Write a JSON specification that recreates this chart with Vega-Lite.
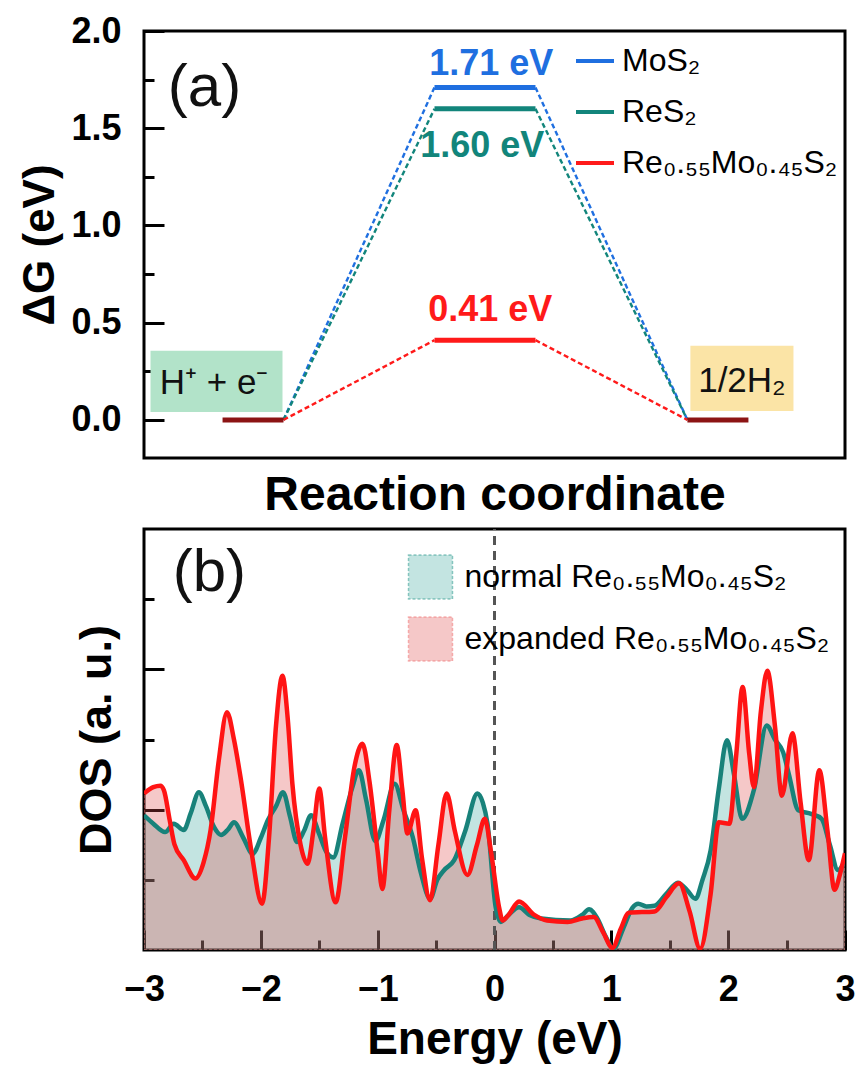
{
  "$schema": "https://vega.github.io/schema/vega-lite/v6.json",
  "padding": {"left": 17, "top": 11, "right": 5, "bottom": 0},
  "spacing": 5,
  "resolve": {
    "scale": {"color": "independent", "fill": "independent", "stroke": "independent"},
    "legend": {"color": "independent", "fill": "independent", "stroke": "independent"}
  },
  "config": {
    "font": "Liberation Sans",
    "view": {"stroke": "black", "strokeWidth": 3},
    "axis": {
      "domain": false, "grid": false, "tickColor": "black", "tickWidth": 3,
      "labelFont": "Liberation Sans", "labelFontWeight": "bold", "labelFontSize": 36, "labelColor": "black",
      "titleFont": "Liberation Sans", "titleFontWeight": "bold", "titleFontSize": 46, "titleColor": "black"
    },
    "legend": {"labelFont": "Liberation Sans", "labelColor": "black", "padding": 0, "labelLimit": 0}
  },
  "datasets": {
    "boxes": [
      {"x": 0.065, "x2": 1.384, "y": 0.041, "y2": 0.356, "b": "H"},
      {"x": 5.46, "x2": 6.49, "y": 0.046, "y2": 0.381, "b": "half"}
    ],
    "boxtext": [
      {"x": 0.70, "y": 0.19, "t": "H⁺ + e⁻"},
      {"x": 5.975, "y": 0.2, "t": "1/2H₂"}
    ],
    "base": [
      {"x": 0.785, "x2": 1.394, "y": 0},
      {"x": 5.43, "x2": 6.04, "y": 0}
    ],
    "levels": [
      {"x": 2.903, "x2": 3.912, "y": 1.71, "s": "MoS₂"},
      {"x": 2.903, "x2": 3.912, "y": 1.60, "s": "ReS₂"},
      {"x": 2.903, "x2": 3.912, "y": 0.41, "s": "Re₀.₅₅Mo₀.₄₅S₂"}
    ],
    "conn": [
      {"x": 1.394, "y": 0, "x2": 2.903, "y2": 1.71, "s": "MoS₂"},
      {"x": 3.912, "y": 1.71, "x2": 5.43, "y2": 0, "s": "MoS₂"},
      {"x": 1.394, "y": 0, "x2": 2.903, "y2": 1.60, "s": "ReS₂"},
      {"x": 3.912, "y": 1.60, "x2": 5.43, "y2": 0, "s": "ReS₂"},
      {"x": 1.394, "y": 0, "x2": 2.903, "y2": 0.41, "s": "Re₀.₅₅Mo₀.₄₅S₂"},
      {"x": 3.912, "y": 0.41, "x2": 5.43, "y2": 0, "s": "Re₀.₅₅Mo₀.₄₅S₂"}
    ],
    "elabels": [
      {"x": 3.47, "y": 1.83, "t": "1.71 eV", "s": "MoS₂"},
      {"x": 3.38, "y": 1.407, "t": "1.60 eV", "s": "ReS₂"},
      {"x": 3.46, "y": 0.567, "t": "0.41 eV", "s": "Re₀.₅₅Mo₀.₄₅S₂"}
    ],
    "dos": [
      {"E": -3.00, "v": 1.92, "s": "normal"}, {"E": -2.92, "v": 1.80, "s": "normal"}, {"E": -2.82, "v": 1.68, "s": "normal"},
      {"E": -2.745, "v": 1.80, "s": "normal"}, {"E": -2.66, "v": 1.71, "s": "normal"}, {"E": -2.60, "v": 1.95, "s": "normal"},
      {"E": -2.53, "v": 2.25, "s": "normal"}, {"E": -2.47, "v": 2.05, "s": "normal"}, {"E": -2.40, "v": 1.75, "s": "normal"},
      {"E": -2.34, "v": 1.64, "s": "normal"}, {"E": -2.28, "v": 1.72, "s": "normal"}, {"E": -2.23, "v": 1.82, "s": "normal"},
      {"E": -2.15, "v": 1.60, "s": "normal"}, {"E": -2.07, "v": 1.37, "s": "normal"}, {"E": -2.00, "v": 1.60, "s": "normal"},
      {"E": -1.94, "v": 1.85, "s": "normal"}, {"E": -1.87, "v": 2.05, "s": "normal"}, {"E": -1.81, "v": 2.25, "s": "normal"},
      {"E": -1.75, "v": 1.90, "s": "normal"}, {"E": -1.69, "v": 1.54, "s": "normal"}, {"E": -1.63, "v": 1.70, "s": "normal"},
      {"E": -1.57, "v": 1.92, "s": "normal"}, {"E": -1.50, "v": 1.65, "s": "normal"}, {"E": -1.44, "v": 1.40, "s": "normal"},
      {"E": -1.38, "v": 1.32, "s": "normal"}, {"E": -1.30, "v": 1.80, "s": "normal"}, {"E": -1.22, "v": 2.30, "s": "normal"},
      {"E": -1.16, "v": 2.56, "s": "normal"}, {"E": -1.10, "v": 2.15, "s": "normal"}, {"E": -1.02, "v": 1.55, "s": "normal"},
      {"E": -0.95, "v": 1.85, "s": "normal"}, {"E": -0.855, "v": 2.37, "s": "normal"}, {"E": -0.78, "v": 2.00, "s": "normal"},
      {"E": -0.70, "v": 1.61, "s": "normal"}, {"E": -0.63, "v": 1.10, "s": "normal"}, {"E": -0.55, "v": 0.73, "s": "normal"},
      {"E": -0.49, "v": 1.00, "s": "normal"}, {"E": -0.43, "v": 1.14, "s": "normal"}, {"E": -0.345, "v": 1.28, "s": "normal"},
      {"E": -0.25, "v": 1.70, "s": "normal"}, {"E": -0.146, "v": 2.23, "s": "normal"}, {"E": -0.10, "v": 2.10, "s": "normal"},
      {"E": -0.06, "v": 1.80, "s": "normal"}, {"E": 0.01, "v": 0.61, "s": "normal"}, {"E": 0.054, "v": 0.40, "s": "normal"},
      {"E": 0.12, "v": 0.50, "s": "normal"}, {"E": 0.21, "v": 0.61, "s": "normal"}, {"E": 0.30, "v": 0.50, "s": "normal"},
      {"E": 0.40, "v": 0.45, "s": "normal"}, {"E": 0.65, "v": 0.42, "s": "normal"}, {"E": 0.75, "v": 0.50, "s": "normal"},
      {"E": 0.81, "v": 0.58, "s": "normal"}, {"E": 0.88, "v": 0.45, "s": "normal"}, {"E": 0.95, "v": 0.20, "s": "normal"},
      {"E": 1.02, "v": 0.02, "s": "normal"}, {"E": 1.10, "v": 0.30, "s": "normal"}, {"E": 1.18, "v": 0.60, "s": "normal"},
      {"E": 1.23, "v": 0.66, "s": "normal"}, {"E": 1.30, "v": 0.62, "s": "normal"}, {"E": 1.37, "v": 0.63, "s": "normal"},
      {"E": 1.47, "v": 0.80, "s": "normal"}, {"E": 1.57, "v": 0.96, "s": "normal"}, {"E": 1.65, "v": 0.85, "s": "normal"},
      {"E": 1.72, "v": 0.73, "s": "normal"}, {"E": 1.78, "v": 1.00, "s": "normal"}, {"E": 1.85, "v": 1.42, "s": "normal"},
      {"E": 1.92, "v": 2.30, "s": "normal"}, {"E": 1.99, "v": 2.99, "s": "normal"}, {"E": 2.05, "v": 2.50, "s": "normal"},
      {"E": 2.12, "v": 1.87, "s": "normal"}, {"E": 2.22, "v": 2.28, "s": "normal"}, {"E": 2.33, "v": 3.20, "s": "normal"},
      {"E": 2.40, "v": 3.00, "s": "normal"}, {"E": 2.47, "v": 2.82, "s": "normal"}, {"E": 2.52, "v": 2.50, "s": "normal"},
      {"E": 2.60, "v": 1.99, "s": "normal"}, {"E": 2.71, "v": 1.94, "s": "normal"}, {"E": 2.80, "v": 1.87, "s": "normal"},
      {"E": 2.87, "v": 1.50, "s": "normal"}, {"E": 2.94, "v": 1.14, "s": "normal"}, {"E": 3.00, "v": 1.28, "s": "normal"},
      {"E": -3.00, "v": 2.23, "s": "expanded"}, {"E": -2.92, "v": 2.32, "s": "expanded"}, {"E": -2.86, "v": 2.34, "s": "expanded"},
      {"E": -2.83, "v": 2.28, "s": "expanded"}, {"E": -2.78, "v": 1.85, "s": "expanded"}, {"E": -2.74, "v": 1.51, "s": "expanded"},
      {"E": -2.66, "v": 1.28, "s": "expanded"}, {"E": -2.56, "v": 1.02, "s": "expanded"}, {"E": -2.49, "v": 1.25, "s": "expanded"},
      {"E": -2.43, "v": 1.71, "s": "expanded"}, {"E": -2.36, "v": 2.70, "s": "expanded"}, {"E": -2.29, "v": 3.39, "s": "expanded"},
      {"E": -2.23, "v": 3.00, "s": "expanded"}, {"E": -2.17, "v": 2.42, "s": "expanded"}, {"E": -2.08, "v": 1.40, "s": "expanded"},
      {"E": -1.99, "v": 0.66, "s": "expanded"}, {"E": -1.93, "v": 1.60, "s": "expanded"}, {"E": -1.87, "v": 3.20, "s": "expanded"},
      {"E": -1.815, "v": 3.91, "s": "expanded"}, {"E": -1.77, "v": 3.30, "s": "expanded"}, {"E": -1.73, "v": 2.37, "s": "expanded"},
      {"E": -1.66, "v": 1.50, "s": "expanded"}, {"E": -1.60, "v": 1.23, "s": "expanded"}, {"E": -1.55, "v": 1.70, "s": "expanded"},
      {"E": -1.50, "v": 2.30, "s": "expanded"}, {"E": -1.45, "v": 1.60, "s": "expanded"}, {"E": -1.36, "v": 0.68, "s": "expanded"},
      {"E": -1.28, "v": 1.60, "s": "expanded"}, {"E": -1.20, "v": 2.60, "s": "expanded"}, {"E": -1.13, "v": 2.94, "s": "expanded"},
      {"E": -1.07, "v": 2.40, "s": "expanded"}, {"E": -1.00, "v": 1.40, "s": "expanded"}, {"E": -0.96, "v": 0.87, "s": "expanded"},
      {"E": -0.90, "v": 2.00, "s": "expanded"}, {"E": -0.837, "v": 2.92, "s": "expanded"}, {"E": -0.79, "v": 2.30, "s": "expanded"},
      {"E": -0.745, "v": 1.66, "s": "expanded"}, {"E": -0.675, "v": 1.99, "s": "expanded"}, {"E": -0.62, "v": 1.30, "s": "expanded"},
      {"E": -0.552, "v": 0.71, "s": "expanded"}, {"E": -0.48, "v": 1.50, "s": "expanded"}, {"E": -0.41, "v": 2.23, "s": "expanded"},
      {"E": -0.34, "v": 1.70, "s": "expanded"}, {"E": -0.232, "v": 1.07, "s": "expanded"}, {"E": -0.15, "v": 1.50, "s": "expanded"},
      {"E": -0.083, "v": 1.87, "s": "expanded"}, {"E": -0.03, "v": 1.40, "s": "expanded"}, {"E": 0.039, "v": 0.61, "s": "expanded"},
      {"E": 0.07, "v": 0.42, "s": "expanded"}, {"E": 0.12, "v": 0.50, "s": "expanded"}, {"E": 0.21, "v": 0.69, "s": "expanded"},
      {"E": 0.34, "v": 0.50, "s": "expanded"}, {"E": 0.45, "v": 0.42, "s": "expanded"}, {"E": 0.625, "v": 0.40, "s": "expanded"},
      {"E": 0.75, "v": 0.45, "s": "expanded"}, {"E": 0.85, "v": 0.47, "s": "expanded"}, {"E": 0.93, "v": 0.25, "s": "expanded"},
      {"E": 1.01, "v": 0.03, "s": "expanded"}, {"E": 1.08, "v": 0.30, "s": "expanded"}, {"E": 1.15, "v": 0.53, "s": "expanded"},
      {"E": 1.37, "v": 0.55, "s": "expanded"}, {"E": 1.47, "v": 0.75, "s": "expanded"}, {"E": 1.58, "v": 0.95, "s": "expanded"},
      {"E": 1.67, "v": 0.55, "s": "expanded"}, {"E": 1.76, "v": 0.02, "s": "expanded"}, {"E": 1.85, "v": 0.80, "s": "expanded"},
      {"E": 1.92, "v": 1.82, "s": "expanded"}, {"E": 2.01, "v": 1.80, "s": "expanded"}, {"E": 2.07, "v": 2.80, "s": "expanded"},
      {"E": 2.124, "v": 3.75, "s": "expanded"}, {"E": 2.18, "v": 2.80, "s": "expanded"}, {"E": 2.22, "v": 2.32, "s": "expanded"},
      {"E": 2.28, "v": 3.40, "s": "expanded"}, {"E": 2.335, "v": 3.98, "s": "expanded"}, {"E": 2.40, "v": 3.20, "s": "expanded"},
      {"E": 2.46, "v": 2.20, "s": "expanded"}, {"E": 2.55, "v": 3.09, "s": "expanded"}, {"E": 2.62, "v": 2.10, "s": "expanded"},
      {"E": 2.69, "v": 1.28, "s": "expanded"}, {"E": 2.78, "v": 2.56, "s": "expanded"}, {"E": 2.85, "v": 1.70, "s": "expanded"},
      {"E": 2.91, "v": 0.86, "s": "expanded"}, {"E": 2.96, "v": 1.10, "s": "expanded"}, {"E": 3.00, "v": 1.38, "s": "expanded"}
    ]
  },
  "vconcat": [
    {
      "width": 701,
      "height": 427,
      "encoding": {
        "x": {"field": "x", "type": "quantitative", "scale": {"domain": [0, 7.005], "nice": false, "zero": false},
              "axis": {"ticks": false, "labels": false, "title": "Reaction coordinate", "titleFontSize": 48, "titlePadding": 13}},
        "y": {"field": "y", "type": "quantitative", "scale": {"domain": [-0.196, 2.0], "nice": false, "zero": false},
              "axis": {"values": [0, 0.25, 0.5, 0.75, 1, 1.25, 1.5, 1.75, 2],
                       "labelExpr": "(datum.value*2) % 1 == 0 ? format(datum.value, '.1f') : ''",
                       "tickSize": {"condition": {"test": "(datum.value*2) % 1 == 0", "value": -20}, "value": -10},
                       "labelPadding": 43, "labelFlush": false, "labelOverlap": false, "labelBound": false,
                       "title": "ΔG (eV)", "titleFontSize": 44, "titlePadding": 8}}
      },
      "layer": [
        {"data": {"name": "boxes"}, "mark": {"type": "rect"},
         "encoding": {"x2": {"field": "x2"}, "y2": {"field": "y2"},
                      "fill": {"field": "b", "type": "nominal", "scale": {"domain": ["H", "half"], "range": ["#b2e3c9", "#fbe4a6"]}, "legend": null}}},
        {"data": {"name": "boxtext"}, "mark": {"type": "text", "fontSize": 35, "font": "Liberation Sans", "color": "#111111"},
         "encoding": {"text": {"field": "t"}}},
        {"data": {"name": "conn"}, "mark": {"type": "rule", "strokeDash": [5, 3], "strokeWidth": 2.4},
         "encoding": {"x2": {"field": "x2"}, "y2": {"field": "y2"},
                      "color": {"field": "s", "type": "nominal",
                                "scale": {"domain": ["MoS₂", "ReS₂", "Re₀.₅₅Mo₀.₄₅S₂"], "range": ["#1f6fe0", "#12857b", "#ff1a1a"]},
                                "legend": {"orient": "none", "legendX": 430, "legendY": 9, "title": null,
                                           "symbolType": "stroke", "symbolStrokeWidth": 4, "symbolSize": 1444, "symbolDash": [],
                                           "labelFontSize": 32, "labelFont": "Liberation Sans", "labelOffset": 6,
                                           "rowPadding": 14, "padding": 0}}}},
        {"data": {"name": "base"}, "mark": {"type": "rule", "strokeWidth": 5, "color": "#8c1414"},
         "encoding": {"x2": {"field": "x2"}}},
        {"data": {"name": "levels"}, "mark": {"type": "rule", "strokeWidth": 5},
         "encoding": {"x2": {"field": "x2"},
                      "color": {"field": "s", "type": "nominal",
                                "scale": {"domain": ["MoS₂", "ReS₂", "Re₀.₅₅Mo₀.₄₅S₂"], "range": ["#1f6fe0", "#12857b", "#ff1a1a"]},
                                "legend": {"orient": "none", "legendX": 430, "legendY": 9, "title": null,
                                           "symbolType": "stroke", "symbolStrokeWidth": 4, "symbolSize": 1444, "symbolDash": [],
                                           "labelFontSize": 32, "labelFont": "Liberation Sans", "labelOffset": 6,
                                           "rowPadding": 14, "padding": 0}}}},
        {"data": {"name": "elabels"}, "mark": {"type": "text", "fontSize": 36, "fontWeight": "bold", "font": "Liberation Sans"},
         "encoding": {"text": {"field": "t"},
                      "color": {"field": "s", "type": "nominal",
                                "scale": {"domain": ["MoS₂", "ReS₂", "Re₀.₅₅Mo₀.₄₅S₂"], "range": ["#1f6fe0", "#12857b", "#ff1a1a"]},
                                "legend": {"orient": "none", "legendX": 430, "legendY": 9, "title": null,
                                           "symbolType": "stroke", "symbolStrokeWidth": 4, "symbolSize": 1444, "symbolDash": [],
                                           "labelFontSize": 32, "labelFont": "Liberation Sans", "labelOffset": 6,
                                           "rowPadding": 14, "padding": 0}}}},
        {"data": {"values": [{"x": 0.605, "y": 1.706, "t": "(a)"}]}, "mark": {"type": "text", "fontSize": 60, "font": "Liberation Sans", "color": "#111111"},
         "encoding": {"text": {"field": "t"}}}
      ]
    },
    {
      "width": 701,
      "height": 421,
      "encoding": {
        "x": {"field": "E", "type": "quantitative", "scale": {"domain": [-3, 3], "nice": false, "zero": false},
              "axis": {"values": [-3, -2.5, -2, -1.5, -1, -0.5, 0, 0.5, 1, 1.5, 2, 2.5, 3],
                       "labelExpr": "datum.value % 1 == 0 ? format(datum.value, 'd') : ''",
                       "tickSize": {"condition": {"test": "datum.value % 1 == 0", "value": -20}, "value": -10},
                       "labelPadding": 42, "labelFlush": false, "labelOverlap": false, "labelBound": false,
                       "title": "Energy (eV)", "titleFontSize": 46, "titlePadding": 0}},
        "y": {"field": "v", "type": "quantitative", "stack": null, "scale": {"domain": [0, 6], "nice": false, "zero": false},
              "axis": {"values": [1, 2, 3, 4, 5], "labels": false,
                       "tickSize": {"condition": {"test": "datum.value % 2 == 0", "value": -20}, "value": -10},
                       "title": "DOS (a. u.)", "titleFontSize": 45, "titlePadding": 23}}
      },
      "layer": [
        {"data": {"name": "dos"},
         "mark": {"type": "area", "interpolate": "monotone", "strokeWidth": 1.5, "strokeDash": [3, 2], "clip": true},
         "encoding": {
           "fill": {"field": "s", "type": "nominal",
                    "scale": {"domain": ["normal", "expanded"], "range": ["rgba(55,165,155,0.3)", "rgba(222,72,72,0.3)"]},
                    "legend": {"orient": "none", "legendX": 263.5, "legendY": 25, "title": null, "symbolType": "square",
                               "symbolSize": 1936, "labelFontSize": 32, "labelOffset": 11, "rowPadding": 12, "labelLimit": 0,
                               "symbolStrokeWidth": 1.5, "symbolDash": [3, 2],
                               "labelExpr": "datum.label + ' Re₀.₅₅Mo₀.₄₅S₂'"}},
           "stroke": {"field": "s", "type": "nominal",
                      "scale": {"domain": ["normal", "expanded"], "range": ["rgba(40,150,140,0.5)", "rgba(240,110,110,0.5)"]},
                      "legend": {"orient": "none", "legendX": 263.5, "legendY": 25, "title": null, "symbolType": "square",
                                 "symbolSize": 1936, "labelFontSize": 32, "labelOffset": 11, "rowPadding": 12, "labelLimit": 0,
                                 "symbolStrokeWidth": 1.5, "symbolDash": [3, 2],
                                 "labelExpr": "datum.label + ' Re₀.₅₅Mo₀.₄₅S₂'"}}
         }},
        {"data": {"values": [{"E": 0, "v": 0, "v2": 6}]}, "mark": {"type": "rule", "strokeDash": [9, 6], "strokeWidth": 3, "color": "#555555"},
         "encoding": {"y2": {"field": "v2"}}},
        {"data": {"name": "dos"}, "mark": {"type": "line", "interpolate": "monotone", "strokeWidth": 4.5, "clip": true},
         "encoding": {
           "color": {"field": "s", "type": "nominal", "scale": {"domain": ["normal", "expanded"], "range": ["#18827a", "#ff1414"]}, "legend": null}
         }},
        {"data": {"values": [{"E": -2.44, "v": 5.38, "t": "(b)"}]}, "mark": {"type": "text", "fontSize": 60, "font": "Liberation Sans", "color": "#111111"},
         "encoding": {"text": {"field": "t"}}}
      ]
    }
  ]
}
